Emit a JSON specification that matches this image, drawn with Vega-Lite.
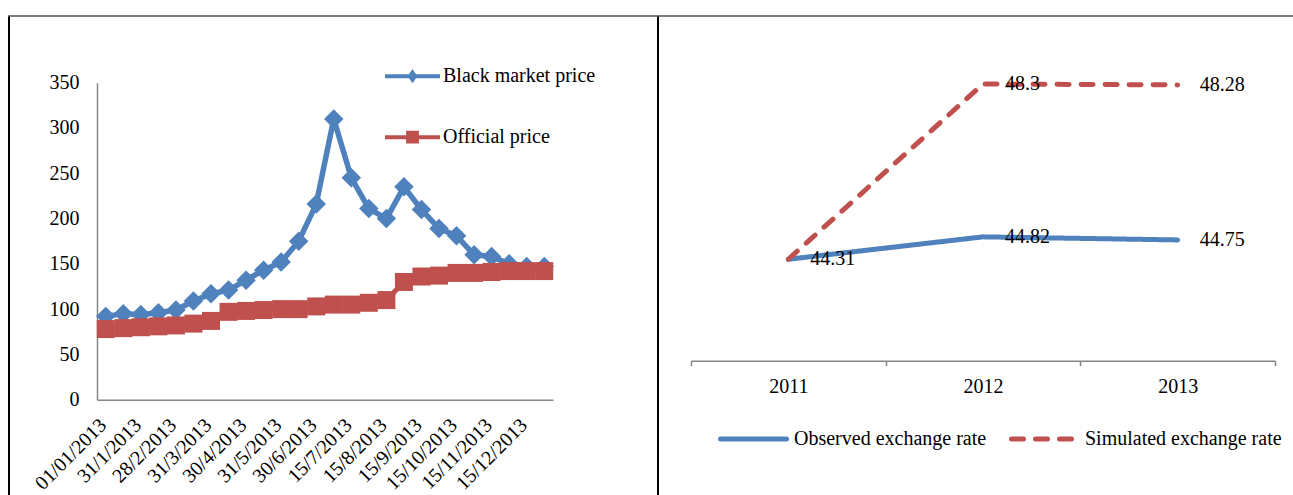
{
  "$schema": "https://vega.github.io/schema/vega-lite/v6.json",
  "background": "white",
  "padding": {"left": 8, "top": 15.5, "right": 0, "bottom": 0},
  "config": {
    "view": {"stroke": null},
    "font": "Liberation Serif",
    "axis": {"labelFont": "Liberation Serif", "labelFontSize": 20, "labelColor": "black", "grid": false},
    "legend": {"labelFont": "Liberation Serif", "labelFontSize": 20, "labelColor": "black"}
  },
  "datasets": {
    "empty": [],
    "prices": [
      {"date": "01/01/2013", "series": "Black market price", "price": 92},
      {"date": "15/1/2013", "series": "Black market price", "price": 95},
      {"date": "31/1/2013", "series": "Black market price", "price": 94},
      {"date": "15/2/2013", "series": "Black market price", "price": 96},
      {"date": "28/2/2013", "series": "Black market price", "price": 99},
      {"date": "15/3/2013", "series": "Black market price", "price": 109},
      {"date": "31/3/2013", "series": "Black market price", "price": 117},
      {"date": "15/4/2013", "series": "Black market price", "price": 121},
      {"date": "30/4/2013", "series": "Black market price", "price": 132},
      {"date": "15/5/2013", "series": "Black market price", "price": 143},
      {"date": "31/5/2013", "series": "Black market price", "price": 152},
      {"date": "15/6/2013", "series": "Black market price", "price": 175},
      {"date": "30/6/2013", "series": "Black market price", "price": 216},
      {"date": "07/7/2013", "series": "Black market price", "price": 310},
      {"date": "15/7/2013", "series": "Black market price", "price": 245},
      {"date": "31/7/2013", "series": "Black market price", "price": 211},
      {"date": "15/8/2013", "series": "Black market price", "price": 200},
      {"date": "31/8/2013", "series": "Black market price", "price": 235},
      {"date": "15/9/2013", "series": "Black market price", "price": 210},
      {"date": "30/9/2013", "series": "Black market price", "price": 189},
      {"date": "15/10/2013", "series": "Black market price", "price": 181},
      {"date": "31/10/2013", "series": "Black market price", "price": 160},
      {"date": "15/11/2013", "series": "Black market price", "price": 158},
      {"date": "30/11/2013", "series": "Black market price", "price": 150},
      {"date": "15/12/2013", "series": "Black market price", "price": 147},
      {"date": "31/12/2013", "series": "Black market price", "price": 147},
      {"date": "01/01/2013", "series": "Official price", "price": 78},
      {"date": "15/1/2013", "series": "Official price", "price": 79},
      {"date": "31/1/2013", "series": "Official price", "price": 80},
      {"date": "15/2/2013", "series": "Official price", "price": 81},
      {"date": "28/2/2013", "series": "Official price", "price": 82},
      {"date": "15/3/2013", "series": "Official price", "price": 84},
      {"date": "31/3/2013", "series": "Official price", "price": 87},
      {"date": "15/4/2013", "series": "Official price", "price": 97},
      {"date": "30/4/2013", "series": "Official price", "price": 98},
      {"date": "15/5/2013", "series": "Official price", "price": 99},
      {"date": "31/5/2013", "series": "Official price", "price": 100},
      {"date": "15/6/2013", "series": "Official price", "price": 100},
      {"date": "30/6/2013", "series": "Official price", "price": 103},
      {"date": "07/7/2013", "series": "Official price", "price": 105},
      {"date": "15/7/2013", "series": "Official price", "price": 105},
      {"date": "31/7/2013", "series": "Official price", "price": 107},
      {"date": "15/8/2013", "series": "Official price", "price": 110},
      {"date": "31/8/2013", "series": "Official price", "price": 130},
      {"date": "15/9/2013", "series": "Official price", "price": 136},
      {"date": "30/9/2013", "series": "Official price", "price": 137},
      {"date": "15/10/2013", "series": "Official price", "price": 140},
      {"date": "31/10/2013", "series": "Official price", "price": 140},
      {"date": "15/11/2013", "series": "Official price", "price": 141},
      {"date": "30/11/2013", "series": "Official price", "price": 142},
      {"date": "15/12/2013", "series": "Official price", "price": 142},
      {"date": "31/12/2013", "series": "Official price", "price": 142}
    ],
    "rates": [
      {"year": 2011, "series": "Observed exchange rate", "value": 44.31},
      {"year": 2012, "series": "Observed exchange rate", "value": 44.82},
      {"year": 2013, "series": "Observed exchange rate", "value": 44.75},
      {"year": 2011, "series": "Simulated exchange rate", "value": 44.31},
      {"year": 2012, "series": "Simulated exchange rate", "value": 48.3},
      {"year": 2013, "series": "Simulated exchange rate", "value": 48.28}
    ]
  },
  "spacing": 0,
  "bounds": "full",
  "resolve": {"scale": {"color": "independent", "strokeDash": "independent"}, "legend": {"color": "independent", "strokeDash": "independent"}},
  "vconcat": [
    {
      "data": {"name": "empty"},
      "mark": {"type": "point", "opacity": 0},
      "encoding": {},
      "width": 1285,
      "height": 1,
      "view": {"fill": "black", "stroke": null}
    },
    {
      "spacing": 0,
      "bounds": "full",
      "resolve": {"scale": {"color": "independent", "strokeDash": "independent"}, "legend": {"color": "independent", "strokeDash": "independent"}},
      "hconcat": [
        {
          "data": {"name": "empty"},
          "mark": {"type": "point", "opacity": 0},
          "encoding": {},
          "width": 2,
          "height": 479,
          "view": {"fill": "black", "stroke": null}
        },
        {
          "data": {"name": "empty"},
          "mark": {"type": "point", "opacity": 0},
          "encoding": {},
          "width": 21,
          "height": 1,
          "view": {"fill": null, "stroke": null}
        },
        {
          "spacing": 65.2,
          "bounds": "flush",
          "resolve": {"scale": {"color": "independent"}, "legend": {"color": "independent"}},
          "vconcat": [
            {
              "data": {"name": "empty"},
              "mark": {"type": "point", "opacity": 0},
              "encoding": {},
              "width": 1,
              "height": 1,
              "view": {"fill": null, "stroke": null}
            },
            {
              "data": {"name": "prices"},
              "width": 456,
              "height": 317,
              "encoding": {
                "x": {
                  "field": "date", "type": "ordinal", "sort": null,
                  "scale": {"type": "point", "padding": 0.5},
                  "axis": {
                    "values": ["01/01/2013","31/1/2013","28/2/2013","31/3/2013","30/4/2013","31/5/2013","30/6/2013","15/7/2013","15/8/2013","15/9/2013","15/10/2013","15/11/2013","15/12/2013"],
                    "labelAngle": -45, "labelAlign": "right", "labelBaseline": "middle",
                    "labelOffset": -3, "labelPadding": 22, "ticks": false,
                    "domainColor": "#868686", "domainWidth": 1.5, "title": null,
                    "labelOverlap": false
                  }
                },
                "y": {
                  "field": "price", "type": "quantitative",
                  "scale": {"domain": [0, 350], "nice": false},
                  "axis": {
                    "values": [0, 50, 100, 150, 200, 250, 300, 350],
                    "ticks": false, "domainColor": "#868686", "domainWidth": 1.5,
                    "labelPadding": 18, "title": null
                  }
                }
              },
              "layer": [
                {
                  "transform": [{"filter": "datum.series === 'Black market price'"}],
                  "mark": {"type": "line", "strokeWidth": 5.5, "strokeJoin": "round"},
                  "encoding": {
                    "color": {
                      "field": "series", "type": "nominal",
                      "scale": {"domain": ["Black market price", "Official price"], "range": ["#4F81BD", "#C0504D"]},
                      "legend": {
                        "orient": "none", "legendX": 286, "legendY": -36, "direction": "vertical",
                        "title": null, "padding": 0, "rowPadding": 19, "symbolSize": 3025,
                        "symbolStrokeWidth": 4, "labelOffset": 1, "labelLimit": 400,
                        "encode": {
                          "symbols": {
                            "update": {
                              "shape": {"signal": "datum.value === 'Official price' ? 'M-1,0H1M-0.16,-0.16H0.16V0.16H-0.16Z' : 'M-1,0H1M0,-0.13L0.09,0L0,0.13L-0.09,0Z'"},
                              "fill": {"scale": "color", "field": "value"},
                              "stroke": {"scale": "color", "field": "value"},
                              "strokeWidth": {"value": 4},
                              "opacity": {"value": 1}
                            }
                          }
                        }
                      }
                    }
                  }
                },
                {
                  "transform": [{"filter": "datum.series === 'Black market price'"}],
                  "mark": {"type": "point", "shape": "diamond", "size": 380, "filled": true, "opacity": 1},
                  "encoding": {
                    "color": {"field": "series", "type": "nominal", "legend": null}
                  }
                },
                {
                  "transform": [{"filter": "datum.series === 'Official price'"}],
                  "mark": {"type": "line", "strokeWidth": 5},
                  "encoding": {
                    "color": {"field": "series", "type": "nominal", "legend": null}
                  }
                },
                {
                  "transform": [{"filter": "datum.series === 'Official price'"}],
                  "mark": {"type": "point", "shape": "square", "size": 324, "filled": true, "opacity": 1},
                  "encoding": {
                    "color": {"field": "series", "type": "nominal", "legend": null}
                  }
                }
              ]
            }
          ]
        },
        {
          "data": {"name": "empty"},
          "mark": {"type": "point", "opacity": 0},
          "encoding": {},
          "width": 61,
          "height": 1,
          "view": {"fill": null, "stroke": null}
        },
        {
          "data": {"name": "empty"},
          "mark": {"type": "point", "opacity": 0},
          "encoding": {},
          "width": 2,
          "height": 479,
          "view": {"fill": "black", "stroke": null}
        },
        {
          "data": {"name": "empty"},
          "mark": {"type": "point", "opacity": 0},
          "encoding": {},
          "width": 31,
          "height": 1,
          "view": {"fill": null, "stroke": null}
        },
        {
          "spacing": 65.2,
          "bounds": "flush",
          "resolve": {"scale": {"color": "independent", "strokeDash": "independent"}, "legend": {"color": "independent", "strokeDash": "independent"}},
          "vconcat": [
            {
              "data": {"name": "empty"},
              "mark": {"type": "point", "opacity": 0},
              "encoding": {},
              "width": 1,
              "height": 1,
              "view": {"fill": null, "stroke": null}
            },
            {
              "data": {"name": "rates"},
              "width": 584,
              "height": 278,
              "encoding": {
                "x": {
                  "field": "year", "type": "quantitative",
                  "scale": {"domain": [2010.5, 2013.5], "nice": false, "zero": false},
                  "axis": {
                    "values": [2010.5, 2011, 2011.5, 2012, 2012.5, 2013, 2013.5],
                    "labelExpr": "datum.value % 1 === 0 ? format(datum.value, 'd') : ''",
                    "tickOpacity": {"condition": {"test": "datum.value % 1 === 0", "value": 0}, "value": 1},
                    "ticks": true, "tickSize": 5, "tickColor": "#868686", "tickWidth": 1.5,
                    "domainColor": "#868686", "domainWidth": 1.5, "labelPadding": 11,
                    "title": null, "labelOverlap": false, "labelFlush": false
                  }
                },
                "y": {
                  "field": "value", "type": "quantitative",
                  "scale": {"domain": [42, 48.33], "nice": false, "zero": false},
                  "axis": null
                }
              },
              "layer": [
                {
                  "mark": {"type": "line", "strokeWidth": 5, "strokeCap": "round", "strokeJoin": "round"},
                  "encoding": {
                    "color": {
                      "field": "series", "type": "nominal",
                      "scale": {"domain": ["Observed exchange rate", "Simulated exchange rate"], "range": ["#4F81BD", "#C0504D"]},
                      "legend": {
                        "orient": "none", "legendX": 27, "legendY": 320.6, "direction": "horizontal",
                        "title": null, "padding": 0, "symbolType": "stroke", "symbolSize": 4356,
                        "symbolStrokeWidth": 5, "labelOffset": 5, "columnPadding": 14, "labelLimit": 400,
                        "encode": {"symbols": {"update": {"strokeCap": {"value": "round"}}}}
                      }
                    },
                    "strokeDash": {
                      "field": "series", "type": "nominal",
                      "scale": {"domain": ["Observed exchange rate", "Simulated exchange rate"], "range": [[1, 0], [12, 12]]},
                      "legend": {
                        "orient": "none", "legendX": 27, "legendY": 320.6, "direction": "horizontal",
                        "title": null, "padding": 0, "symbolType": "stroke", "symbolSize": 4356,
                        "symbolStrokeWidth": 5, "labelOffset": 5, "columnPadding": 14, "labelLimit": 400,
                        "encode": {"symbols": {"update": {"strokeCap": {"value": "round"}}}}
                      }
                    }
                  }
                },
                {
                  "transform": [{"filter": "datum.series === 'Observed exchange rate' || datum.year !== 2011"}],
                  "mark": {"type": "text", "align": "left", "baseline": "middle", "dx": 22, "dy": 0, "fontSize": 20, "font": "Liberation Serif", "color": "black"},
                  "encoding": {
                    "text": {"field": "value", "type": "nominal"}
                  }
                }
              ]
            }
          ]
        }
      ]
    }
  ]
}
